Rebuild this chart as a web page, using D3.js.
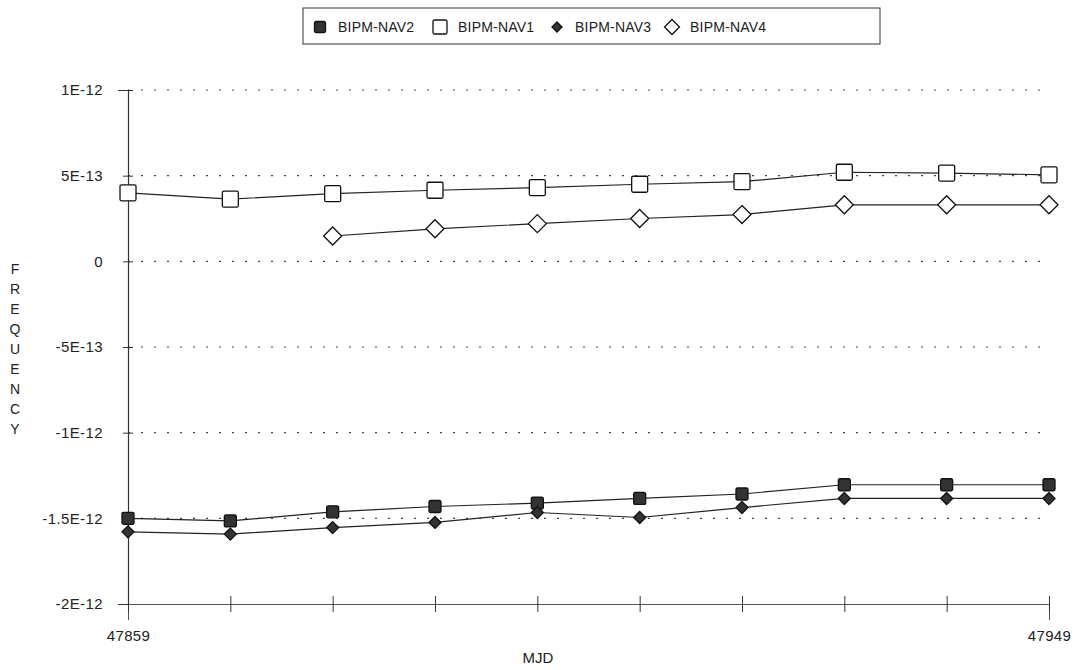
<!DOCTYPE html>
<html lang="en">

<head>
  <meta charset="UTF-8">
  <script src="https://cdn.jsdelivr.net/npm/d3@7"></script>
  <title>BIPM-NAV frequency</title>
  <style>
    body { margin: 0; background: #fff; }
    text { font-family: "Liberation Sans", Arial, Helvetica, sans-serif; fill: #222; }
  </style>
</head>

<body>
</body>
<script>
  // MJD sampling, one point every 10 days
  let mjd = [47859, 47869, 47879, 47889, 47899, 47909, 47919, 47929, 47939, 47949]

  // frequency values (units of 1E-12)
  let nav2 = [-1.50, -1.515, -1.462, -1.431, -1.411, -1.384, -1.358, -1.304, -1.304, -1.304]
  let nav1 = [0.40, 0.363, 0.395, 0.415, 0.43, 0.45, 0.465, 0.52, 0.515, 0.505]
  let nav3 = [-1.579, -1.592, -1.554, -1.524, -1.466, -1.495, -1.437, -1.384, -1.384, -1.384]
  let nav4 = [null, null, 0.148, 0.19, 0.22, 0.25, 0.273, 0.33, 0.33, 0.33]

  let yTicks = [1, 0.5, 0, -0.5, -1, -1.5, -2]
  let yTickLabels = ['1E-12', '5E-13', '0', '-5E-13', '-1E-12', '-1.5E-12', '-2E-12']
  let xLabels = [47859, 47949]

  let width = 1076
  let height = 670

  let svg = d3.select('body')
    .append('svg')
    .attr('width', width)
    .attr('height', height)

  let x = d3.scaleLinear()
    .domain([47859, 47949])
    .range([128, 1049])

  let y = d3.scaleLinear()
    .domain([-2, 1])
    .range([604, 90])

  // dotted gridlines
  svg.selectAll('line.grid')
    .data(yTicks.filter(d => d > -2))
    .enter()
    .append('line')
    .attr('class', 'grid')
    .attr('x1', 128)
    .attr('x2', 1049)
    .attr('y1', d => y(d))
    .attr('y2', d => y(d))
    .attr('stroke', '#444')
    .attr('stroke-width', 1.2)
    .attr('stroke-dasharray', '2,11')

  // y axis
  let yAxis = d3.axisLeft(y)
    .tickValues(yTicks)
    .tickFormat((d, i) => yTickLabels[i])
    .tickSize(10)
    .tickPadding(15)
  let gy = svg.append('g')
    .attr('transform', 'translate(128,0)')
    .call(yAxis)
  gy.select('.domain').attr('stroke', '#333').attr('stroke-width', 1.2)
  gy.selectAll('.tick line').attr('stroke', '#333').attr('transform', 'translate(5,0)')
  gy.selectAll('.tick text')
    .style('font-size', '15px')
    .style('letter-spacing', '0.4px')
    .style('font-family', '"Liberation Sans", Arial, sans-serif')
    .attr('fill', '#222')

  // x axis
  let xAxis = d3.axisBottom(x)
    .tickValues(mjd)
    .tickFormat(d => xLabels.includes(d) ? d : '')
    .tickSize(16)
    .tickPadding(10)
  let gx = svg.append('g')
    .attr('transform', 'translate(0,604)')
    .call(xAxis)
  gx.select('.domain').attr('stroke', '#555').attr('stroke-width', 1)
  gx.selectAll('.tick line').attr('stroke', '#333').attr('transform', 'translate(0,-8)')
  gx.selectAll('.tick text')
    .style('font-size', '15px')
    .style('letter-spacing', '0.4px')
    .style('font-family', '"Liberation Sans", Arial, sans-serif')
    .attr('fill', '#222')

  // axis titles
  svg.append('text')
    .attr('x', 538)
    .attr('y', 663)
    .attr('text-anchor', 'middle')
    .style('font-size', '15px')
    .text('MJD')

  let letters = 'FREQUENCY'.split('')
  svg.selectAll('text.ylab')
    .data(letters)
    .enter()
    .append('text')
    .attr('class', 'ylab')
    .attr('x', 15)
    .attr('y', (d, i) => 274 + i * 20)
    .attr('text-anchor', 'middle')
    .style('font-size', '14px')
    .text(d => d)

  let line = d3.line()
    .defined(d => d.v !== null)
    .x(d => x(d.t))
    .y(d => y(d.v))

  let series = [
    { name: 'BIPM-NAV2', values: nav2, shape: 'square', fill: '#333', size: 12 },
    { name: 'BIPM-NAV1', values: nav1, shape: 'square', fill: '#fff', size: 16 },
    { name: 'BIPM-NAV3', values: nav3, shape: 'diamond', fill: '#333', size: 10 },
    { name: 'BIPM-NAV4', values: nav4, shape: 'diamond', fill: '#fff', size: 16 }
  ]

  function marker(g, s) {
    if (s.shape === 'square') {
      g.append('rect')
        .attr('x', -s.size / 2)
        .attr('y', -s.size / 2)
        .attr('width', s.size)
        .attr('height', s.size)
        .attr('rx', 1.5)
        .attr('fill', s.fill)
        .attr('stroke', '#111')
        .attr('stroke-width', 1.3)
    } else {
      let r = s.size / 2 + 1
      g.append('path')
        .attr('d', `M0,${-r}L${r},0L0,${r}L${-r},0Z`)
        .attr('fill', s.fill)
        .attr('stroke', '#111')
        .attr('stroke-width', 1.3)
    }
  }

  series.forEach(s => {
    let pts = mjd.map((t, i) => ({ t: t, v: s.values[i] }))
    svg.append('path')
      .datum(pts)
      .attr('d', line)
      .attr('fill', 'none')
      .attr('stroke', '#222')
      .attr('stroke-width', 1.2)

    svg.selectAll(null)
      .data(pts.filter(d => d.v !== null))
      .enter()
      .append('g')
      .attr('transform', d => `translate(${x(d.t)},${y(d.v)})`)
      .each(function () { marker(d3.select(this), s) })
  })

  // legend
  let legend = svg.append('g')
  legend.append('rect')
    .attr('x', 303)
    .attr('y', 8)
    .attr('width', 577)
    .attr('height', 36)
    .attr('fill', '#fff')
    .attr('stroke', '#333')
    .attr('stroke-width', 1)

  let legendX = [320, 440, 557, 672]
  series.forEach((s, i) => {
    let g = legend.append('g')
      .attr('transform', `translate(${legendX[i]},27)`)
    let ls = Object.assign({}, s, { size: s.shape === 'square' ? (s.fill === '#fff' ? 14 : 11) : (s.fill === '#fff' ? 13 : 8) })
    marker(g, ls)
    g.append('text')
      .attr('x', 18)
      .attr('y', 5)
      .style('font-size', '14px')
      .style('letter-spacing', '0.2px')
      .text(s.name)
  })
</script>

</html>
